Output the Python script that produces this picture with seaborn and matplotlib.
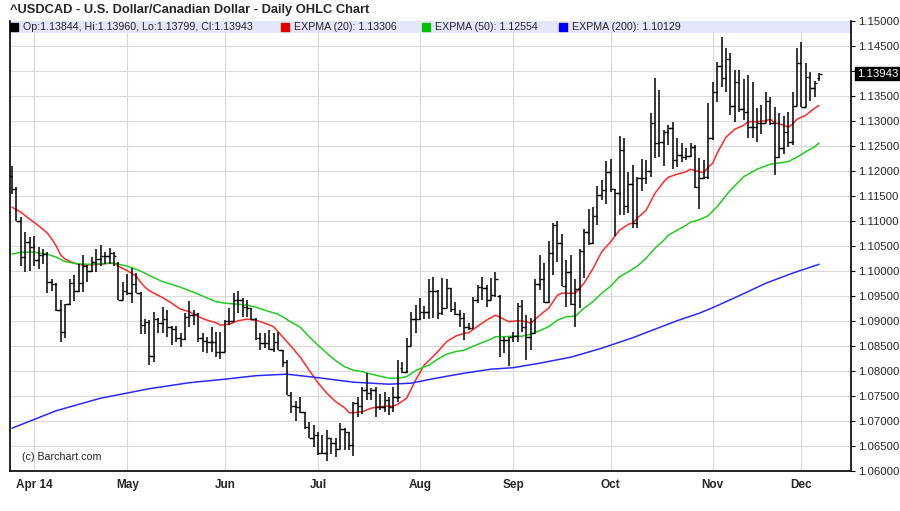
import numpy as np
import pandas as pd
import matplotlib
matplotlib.use("Agg")
import matplotlib.pyplot as plt
import seaborn as sns

# daily bars, 2014-03-25 .. 2014-12-05 (Good Friday missing)
opens = [1.1190, 1.1163, 1.1100, 1.1028, 1.1058, 1.1047, 1.1022, 1.1031, 1.1033, 1.0977,
         1.0973, 1.0921, 1.0878, 1.0934, 1.0975, 1.0959, 1.0975, 1.1010, 1.1000, 1.1017,
         1.1023, 1.1030, 1.1030, 1.1035, 1.1015, 1.0942, 1.0960, 1.0955, 1.0973, 1.0955,
         1.0891, 1.0898, 1.0830, 1.0903, 1.0896, 1.0903, 1.0888, 1.0883, 1.0865, 1.0863,
         1.0908, 1.0911, 1.0913, 1.0865, 1.0860, 1.0858, 1.0858, 1.0838, 1.0838, 1.0900,
         1.0900, 1.0941, 1.0941, 1.0927, 1.0925, 1.0903, 1.0865, 1.0855, 1.0856, 1.0843,
         1.0858, 1.0841, 1.0818, 1.0751, 1.0729, 1.0727, 1.0718, 1.0688, 1.0665, 1.0672,
         1.0635, 1.0635, 1.0665, 1.0655, 1.0643, 1.0683, 1.0678, 1.0651, 1.0735, 1.0729,
         1.0761, 1.0755, 1.0762, 1.0728, 1.0728, 1.0741, 1.0728, 1.0747, 1.0805, 1.0798,
         1.0849, 1.0903, 1.0903, 1.0918, 1.0917, 1.0960, 1.0960, 1.0915, 1.0925, 1.0965,
         1.0923, 1.0913, 1.0905, 1.0888, 1.0885, 1.0941, 1.0967, 1.0965, 1.0941, 1.0951,
         1.0950, 1.0861, 1.0861, 1.0868, 1.0869, 1.0929, 1.0888, 1.0868, 1.0876, 1.0974,
         1.0983, 1.0938, 1.1035, 1.1091, 1.1055, 1.0969, 1.0998, 1.0933, 1.0963, 1.1040,
         1.1078, 1.1056, 1.1110, 1.1151, 1.1161, 1.1197, 1.1163, 1.1156, 1.1241, 1.1129,
         1.1173, 1.1095, 1.1185, 1.1185, 1.1199, 1.1295, 1.1255, 1.1258, 1.1278, 1.1285,
         1.1221, 1.1231, 1.1228, 1.1229, 1.1247, 1.1167, 1.1185, 1.1187, 1.1265, 1.1358,
         1.1409, 1.1385, 1.1423, 1.1329, 1.1378, 1.1323, 1.1318, 1.1288, 1.1288, 1.1296,
         1.1295, 1.1340, 1.1295, 1.1228, 1.1245, 1.1278, 1.1258, 1.1329, 1.1415, 1.1328,
         1.1387, 1.1365, 1.13844]
highs = [1.1210, 1.1168, 1.1107, 1.1077, 1.1067, 1.1070, 1.1047, 1.1043, 1.1037, 1.0983,
         1.0975, 1.0942, 1.0934, 1.0983, 1.0991, 1.1013, 1.1032, 1.1012, 1.1027, 1.1043,
         1.1051, 1.1037, 1.1046, 1.1038, 1.1018, 1.0978, 1.0993, 1.1005, 1.0995, 1.0957,
         1.0903, 1.0901, 1.0918, 1.0905, 1.0927, 1.0921, 1.0890, 1.0889, 1.0876, 1.0916,
         1.0940, 1.0921, 1.0915, 1.0875, 1.0868, 1.0887, 1.0878, 1.0878, 1.0901, 1.0925,
         1.0955, 1.0960, 1.0945, 1.0941, 1.0925, 1.0905, 1.0875, 1.0875, 1.0881, 1.0875,
         1.0878, 1.0841, 1.0821, 1.0758, 1.0740, 1.0747, 1.0718, 1.0698, 1.0691, 1.0678,
         1.0671, 1.0681, 1.0665, 1.0665, 1.0695, 1.0685, 1.0678, 1.0737, 1.0747, 1.0767,
         1.0795, 1.0765, 1.0768, 1.0753, 1.0758, 1.0748, 1.0768, 1.0821, 1.0818, 1.0865,
         1.0918, 1.0931, 1.0945, 1.0929, 1.0983, 1.0987, 1.0962, 1.0985, 1.0983, 1.0965,
         1.0938, 1.0921, 1.0916, 1.0895, 1.0948, 1.0971, 1.0987, 1.0971, 1.0985, 1.0998,
         1.0952, 1.0868, 1.0868, 1.0878, 1.0935, 1.0941, 1.0911, 1.0905, 1.0983, 1.1031,
         1.1016, 1.1060, 1.1096, 1.1100, 1.1073, 1.1021, 1.1031, 1.0983, 1.1043, 1.1083,
         1.1123, 1.1127, 1.1169, 1.1181, 1.1220, 1.1223, 1.1163, 1.1269, 1.1265, 1.1197,
         1.1211, 1.1188, 1.1223, 1.1221, 1.1315, 1.1385, 1.1361, 1.1281, 1.1291, 1.1298,
         1.1265, 1.1255, 1.1245, 1.1255, 1.1251, 1.1225, 1.1221, 1.1335, 1.1378, 1.1418,
         1.1468, 1.1445, 1.1435, 1.1401, 1.1401, 1.1383, 1.1391, 1.1378, 1.1325, 1.1331,
         1.1358, 1.1348, 1.1328, 1.1315, 1.1309, 1.1318, 1.1358, 1.1445, 1.1458, 1.1416,
         1.1398, 1.1380, 1.13960]
lows = [1.1153, 1.1100, 1.1010, 1.0998, 1.1000, 1.1010, 1.1003, 1.1013, 1.0955, 1.0960,
        1.0919, 1.0857, 1.0865, 1.0932, 1.0940, 1.0958, 1.0958, 1.0978, 1.0998, 1.0998,
        1.1010, 1.1013, 1.1013, 1.1009, 1.0942, 1.0942, 1.0951, 1.0935, 1.0955, 1.0873,
        1.0873, 1.0811, 1.0818, 1.0875, 1.0875, 1.0868, 1.0851, 1.0858, 1.0848, 1.0862,
        1.0888, 1.0891, 1.0858, 1.0838, 1.0835, 1.0838, 1.0827, 1.0823, 1.0838, 1.0891,
        1.0900, 1.0915, 1.0908, 1.0908, 1.0901, 1.0861, 1.0841, 1.0845, 1.0841, 1.0838,
        1.0841, 1.0808, 1.0751, 1.0716, 1.0700, 1.0715, 1.0683, 1.0665, 1.0648, 1.0631,
        1.0633, 1.0620, 1.0633, 1.0628, 1.0643, 1.0641, 1.0641, 1.0629, 1.0708, 1.0713,
        1.0741, 1.0741, 1.0708, 1.0721, 1.0718, 1.0711, 1.0718, 1.0738, 1.0795, 1.0795,
        1.0849, 1.0875, 1.0901, 1.0903, 1.0904, 1.0905, 1.0903, 1.0911, 1.0925, 1.0918,
        1.0911, 1.0887, 1.0861, 1.0881, 1.0885, 1.0935, 1.0941, 1.0928, 1.0941, 1.0948,
        1.0828, 1.0835, 1.0809, 1.0858, 1.0858, 1.0878, 1.0821, 1.0841, 1.0876, 1.0961,
        1.0935, 1.0935, 1.0991, 1.1018, 1.0969, 1.0928, 1.0931, 1.0887, 1.0925, 1.0985,
        1.1051, 1.1053, 1.1091, 1.1141, 1.1133, 1.1158, 1.1069, 1.1111, 1.1111, 1.1115,
        1.1085, 1.1085, 1.1160, 1.1173, 1.1188, 1.1225, 1.1227, 1.1209, 1.1251, 1.1203,
        1.1207, 1.1218, 1.1221, 1.1228, 1.1165, 1.1123, 1.1183, 1.1183, 1.1261, 1.1338,
        1.1368, 1.1358, 1.1311, 1.1298, 1.1318, 1.1301, 1.1265, 1.1265, 1.1258, 1.1273,
        1.1295, 1.1291, 1.1191, 1.1225, 1.1233, 1.1247, 1.1251, 1.1329, 1.1328, 1.1328,
        1.1340, 1.1348, 1.13799]
closes = [1.1163, 1.1100, 1.1028, 1.1058, 1.1047, 1.1022, 1.1031, 1.1033, 1.0977, 1.0973,
          1.0921, 1.0878, 1.0934, 1.0975, 1.0959, 1.0975, 1.1010, 1.1000, 1.1017, 1.1023,
          1.1030, 1.1030, 1.1035, 1.1030, 1.0942, 1.0960, 1.0955, 1.0973, 1.0955, 1.0891,
          1.0898, 1.0830, 1.0903, 1.0896, 1.0903, 1.0888, 1.0883, 1.0865, 1.0863, 1.0908,
          1.0911, 1.0913, 1.0865, 1.0860, 1.0858, 1.0858, 1.0838, 1.0838, 1.0900, 1.0900,
          1.0941, 1.0941, 1.0927, 1.0925, 1.0903, 1.0865, 1.0855, 1.0856, 1.0843, 1.0858,
          1.0841, 1.0818, 1.0751, 1.0729, 1.0727, 1.0718, 1.0688, 1.0665, 1.0672, 1.0635,
          1.0635, 1.0665, 1.0655, 1.0643, 1.0683, 1.0678, 1.0651, 1.0735, 1.0729, 1.0761,
          1.0755, 1.0762, 1.0728, 1.0728, 1.0741, 1.0728, 1.0747, 1.0747, 1.0798, 1.0849,
          1.0903, 1.0903, 1.0918, 1.0917, 1.0960, 1.0960, 1.0915, 1.0925, 1.0965, 1.0923,
          1.0913, 1.0905, 1.0888, 1.0885, 1.0941, 1.0967, 1.0965, 1.0941, 1.0951, 1.0983,
          1.0861, 1.0861, 1.0868, 1.0869, 1.0929, 1.0888, 1.0868, 1.0876, 1.0974, 1.0983,
          1.0938, 1.1035, 1.1091, 1.1055, 1.0969, 1.0998, 1.0933, 1.0963, 1.1040, 1.1078,
          1.1056, 1.1110, 1.1151, 1.1161, 1.1197, 1.1163, 1.1156, 1.1241, 1.1129, 1.1173,
          1.1095, 1.1185, 1.1185, 1.1199, 1.1295, 1.1255, 1.1258, 1.1278, 1.1285, 1.1221,
          1.1231, 1.1228, 1.1229, 1.1247, 1.1167, 1.1185, 1.1187, 1.1265, 1.1358, 1.1409,
          1.1385, 1.1423, 1.1329, 1.1378, 1.1323, 1.1318, 1.1288, 1.1288, 1.1296, 1.1295,
          1.1340, 1.1295, 1.1228, 1.1245, 1.1278, 1.1258, 1.1329, 1.1415, 1.1328, 1.1387,
          1.1365, 1.1375, 1.13943]

# moving averages (bar index, value)
ema20_idx = [0, 2, 4, 6, 8, 9, 10, 11, 12, 14, 16, 18, 20, 22, 23, 24, 26, 28, 29, 30, 31, 32,
             34, 36, 38, 40, 42, 44, 46, 47, 49, 51, 53, 55, 57, 59, 61, 63, 65, 67, 69, 71, 73,
             75, 76, 77, 79, 81, 83, 85, 86, 87, 89, 91, 93, 94, 96, 98, 100, 102, 103, 105,
             107, 109, 110, 112, 114, 116, 117, 119, 121, 123, 124, 126, 127, 129, 131, 133,
             135, 137, 139, 140, 141, 143, 145, 147, 148, 150, 152, 153, 155, 156, 157, 158,
             159, 161, 163, 165, 166, 168, 170, 171, 172, 174, 175, 176, 177, 179, 181, 182]
ema20_val = [1.1127, 1.1117, 1.1103, 1.1090, 1.1075, 1.1063, 1.1049, 1.1031, 1.1023, 1.1015,
             1.1011, 1.1012, 1.1013, 1.1015, 1.1015, 1.1009, 1.1000, 1.0989, 1.0977, 1.0967,
             1.0960, 1.0955, 1.0946, 1.0935, 1.0923, 1.0918, 1.0908, 1.0901, 1.0896, 1.0891,
             1.0893, 1.0900, 1.0903, 1.0901, 1.0895, 1.0888, 1.0868, 1.0848, 1.0827, 1.0801,
             1.0776, 1.0755, 1.0738, 1.0726, 1.0716, 1.0716, 1.0718, 1.0725, 1.0728, 1.0729,
             1.0729, 1.0733, 1.0745, 1.0781, 1.0812, 1.0820, 1.0838, 1.0858, 1.0869, 1.0875,
             1.0876, 1.0889, 1.0901, 1.0911, 1.0907, 1.0898, 1.0900, 1.0898, 1.0895, 1.0911,
             1.0925, 1.0951, 1.0955, 1.0955, 1.0955, 1.0975, 1.1004, 1.1038, 1.1058, 1.1081,
             1.1093, 1.1095, 1.1105, 1.1121, 1.1155, 1.1178, 1.1187, 1.1193, 1.1198, 1.1203,
             1.1198, 1.1196, 1.1207, 1.1215, 1.1235, 1.1267, 1.1283, 1.1291, 1.1298, 1.1298,
             1.1300, 1.1303, 1.1296, 1.1291, 1.1287, 1.1293, 1.1303, 1.1311, 1.1325, 1.13306]
ema50_idx = [0, 2, 5, 8, 10, 12, 14, 16, 18, 20, 22, 24, 26, 28, 30, 31, 34, 38, 42, 46, 48, 51,
             53, 55, 57, 60, 63, 65, 67, 69, 71, 73, 75, 77, 79, 81, 83, 85, 87, 89, 91, 93, 94,
             96, 98, 100, 102, 104, 106, 108, 109, 111, 113, 115, 117, 119, 121, 123, 125, 127,
             129, 131, 133, 135, 137, 139, 141, 143, 145, 147, 148, 150, 152, 153, 155, 157,
             159, 162, 165, 168, 171, 175, 177, 179, 181, 182]
ema50_val = [1.1033, 1.1037, 1.1037, 1.1033, 1.1027, 1.1018, 1.1015, 1.1013, 1.1013, 1.1014,
             1.1015, 1.1013, 1.1009, 1.1003, 1.0995, 1.0990, 1.0978, 1.0967, 1.0953, 1.0938,
             1.0935, 1.0933, 1.0931, 1.0927, 1.0921, 1.0913, 1.0897, 1.0887, 1.0868, 1.0851,
             1.0835, 1.0820, 1.0808, 1.0801, 1.0798, 1.0793, 1.0789, 1.0785, 1.0785, 1.0788,
             1.0800, 1.0808, 1.0811, 1.0823, 1.0833, 1.0838, 1.0841, 1.0849, 1.0856, 1.0863,
             1.0868, 1.0868, 1.0869, 1.0869, 1.0873, 1.0880, 1.0888, 1.0901, 1.0908, 1.0909,
             1.0925, 1.0938, 1.0955, 1.0969, 1.0988, 1.0998, 1.1009, 1.1025, 1.1045, 1.1061,
             1.1071, 1.1081, 1.1091, 1.1097, 1.1102, 1.1110, 1.1128, 1.1161, 1.1188, 1.1203,
             1.1213, 1.1218, 1.1227, 1.1238, 1.1248, 1.12554]
ema200_idx = [0, 10, 20, 31, 40, 48, 55, 62, 69, 77, 85, 90, 95, 102, 108, 113, 119, 126, 133,
              140, 145, 150, 155, 158, 164, 170, 176, 182]
ema200_val = [1.0685, 1.0720, 1.0745, 1.0764, 1.0776, 1.0783, 1.0790, 1.0793, 1.0786, 1.0777,
              1.0773, 1.0775, 1.0784, 1.0795, 1.0803, 1.0806, 1.0815, 1.0827, 1.0845, 1.0866,
              1.0883, 1.0900, 1.0915, 1.0926, 1.0950, 1.0975, 1.0995, 1.10129]

title = "^USDCAD - U.S. Dollar/Canadian Dollar - Daily OHLC Chart"

dates = pd.bdate_range("2014-03-25", "2014-12-05")
dates = dates[dates != pd.Timestamp("2014-04-18")]
idx = np.arange(len(dates))

sns.set_style("white")
plt.rcParams['font.family'] = ['Liberation Sans', 'DejaVu Sans']
narrow = ['Liberation Sans Narrow', 'Liberation Sans', 'DejaVu Sans']

fig = plt.figure(figsize=(9, 5.11), dpi=100)
ax = fig.add_axes([0.0111, 0.0789, 0.9345, 0.8806])

# grid
yt = np.round(np.arange(1.06, 1.15001, 0.005), 3)
month_pos = [i for i in range(1, len(dates)) if dates[i].month != dates[i - 1].month]
month_lab = [("Apr 14" if dates[i].month == 4 else dates[i].strftime("%b")) for i in month_pos]
for v in yt:
    ax.axhline(v, color="#d9d9d9", lw=0.8, zorder=0)
for p in month_pos:
    ax.axvline(p, color="#d9d9d9", lw=0.8, zorder=0)

# header band
ax.axhspan(1.1476, 1.15, color="#e6e6fa", zorder=1, lw=0)

# OHLC bars
ax.vlines(idx, lows, highs, color="black", lw=1.1, zorder=3)
ax.hlines(opens, idx - 0.55, idx, color="black", lw=1.0, zorder=3)
ax.hlines(closes, idx, idx + 0.55, color="black", lw=1.0, zorder=3)

sns.lineplot(x=ema20_idx, y=ema20_val, color="#ff2a2a", lw=1.1, ax=ax, zorder=2)
sns.lineplot(x=ema50_idx, y=ema50_val, color="#22cc22", lw=1.1, ax=ax, zorder=2)
sns.lineplot(x=ema200_idx, y=ema200_val, color="#2a2aff", lw=1.1, ax=ax, zorder=2)

ax.set_xlim(-0.45, 189.2)
ax.set_ylim(1.06, 1.15)
ax.set_xlabel("")
ax.set_ylabel("")

ax.set_xticks(month_pos)
ax.set_xticklabels(month_lab, fontweight="bold", family=narrow, fontsize=8.5)
ax.yaxis.tick_right()
ax.set_yticks(yt)
ax.set_yticklabels(["" if abs(v - 1.14) < 1e-9 else f"{v:.5f}" for v in yt], family=narrow, fontsize=8.2)
ax.tick_params(axis="both", length=3, width=0.8, color="black", pad=2)
ax.tick_params(axis="x", pad=3)

for s in ["left", "bottom", "right"]:
    ax.spines[s].set_color("black")
    ax.spines[s].set_linewidth(1.2)
ax.spines["top"].set_visible(False)

# last price marker
ax.annotate(f"{closes[-1]:.5f}", xy=(1.0, closes[-1]), xycoords=("axes fraction", "data"),
            xytext=(4, 0), textcoords="offset points", va="center", ha="left",
            color="white", family=narrow, fontsize=8.2,
            bbox=dict(boxstyle="square,pad=0.12", fc="black", ec="black"))

# header legend
fy = 0.9867
items = [
    ("black", 0.0052, 0.0150, f"Op:{opens[-1]:.5f}, Hi:{highs[-1]:.5f}, Lo:{lows[-1]:.5f}, Cl:{closes[-1]:.5f}"),
    ("#e00000", 0.327, 0.3377, f"EXPMA (20): {ema20_val[-1]:.5f}"),
    ("#00c000", 0.4946, 0.5054, f"EXPMA (50): {ema50_val[-1]:.5f}"),
    ("#0000ff", 0.6576, 0.6683, f"EXPMA (200): {ema200_val[-1]:.5f}"),
]
for col, sx, tx, txt in items:
    ax.plot([sx], [fy], marker="s", ms=5.5, color=col, transform=ax.transAxes, clip_on=False, zorder=4)
    ax.text(tx, fy, txt, transform=ax.transAxes, va="center", ha="left", fontsize=7.7, zorder=4)

ax.text(0.0143, 0.030, "(c) Barchart.com", transform=ax.transAxes, va="center", ha="left",
        family=narrow, fontsize=7.7)

fig.text(10 / 900, 1 - 9.5 / 511, title, va="center", ha="left", fontweight="bold", fontsize=9.3)

fig.savefig("out.png", dpi=100)
